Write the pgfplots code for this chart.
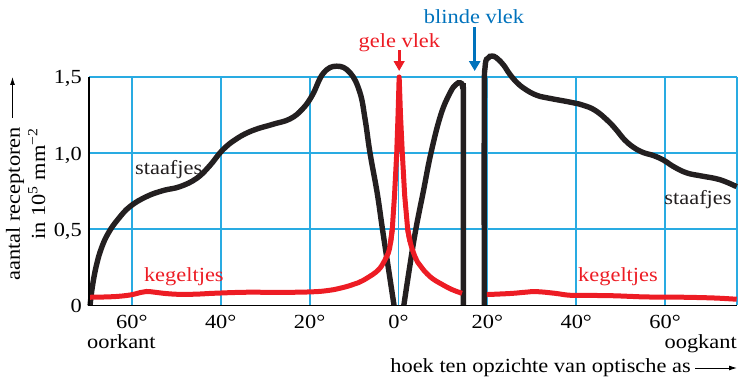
\documentclass[border=0pt]{standalone}
\usepackage{fontspec}
\setmainfont{Liberation Serif}[FakeStretch=1.12]
\usepackage{pgfplots}
\pgfplotsset{compat=1.18}
\usetikzlibrary{arrows.meta}
\definecolor{gridblue}{RGB}{41,171,226}
\definecolor{cred}{RGB}{237,28,36}
\definecolor{cblue}{RGB}{0,114,188}
\definecolor{cblack}{RGB}{35,31,32}
\begin{document}
\fontsize{20}{23}\selectfont
\begin{tikzpicture}
\begin{axis}[
  scale only axis, width=648pt, height=228.5pt,
  xmin=-69.64, xmax=76.17, ymin=0, ymax=1.5,
  clip=false,
  axis line style={draw=none},
  xtick={-60,-40,-20,0,20,40,60},
  xticklabels={60°,40°,20°,0°,20°,40°,60°},
  ytick={0,0.5,1,1.5},
  yticklabels={0,{0,5},{1,0},{1,5}},
  major tick length=0pt,
  grid=major,
  major grid style={gridblue, line width=1.8pt},
  xticklabel style={anchor=base, inner sep=0pt, yshift=-23.5pt},
  yticklabel style={anchor=base east, inner sep=0pt, xshift=-7pt, yshift=-7pt},
]
\draw[gridblue, line width=1.8pt] (rel axis cs:1,0) -- (rel axis cs:1,1);
\coordinate (O) at (rel axis cs:0,0);

% staafjes (rods)
\addplot[cblack, line width=5.4pt, smooth, tension=0.7] coordinates {
(-69.4,0) (-68.9,0.12) (-68.0,0.26) (-66.8,0.38) (-65.2,0.48) (-63,0.57) (-60.4,0.65)
(-56.7,0.715) (-52.9,0.755) (-49.2,0.78) (-45.4,0.835) (-42.4,0.92) (-39.6,1.02)
(-36.4,1.095) (-32.7,1.15) (-28.2,1.19) (-24.4,1.225) (-21.6,1.29) (-19.4,1.38)
(-16.9,1.525) (-13.9,1.571) (-10.9,1.528) (-8.7,1.40) (-7.5,1.22) (-6.4,1.0)
(-4.8,0.74) (-3.6,0.5) (-2.3,0.25) (-1.0,0)
};
\addplot[cblack, line width=5.4pt, smooth, tension=0.7] coordinates {
(1.2,0) (2.5,0.25) (3.9,0.5) (5.6,0.75) (7.3,1.0) (9.5,1.25) (11.6,1.396)
(12.9,1.45) (13.9,1.462) (14.45,1.43) (14.6,1.3) (14.6,0)
};
\addplot[cblack, line width=5.4pt, smooth, tension=0.7] coordinates {
(19.3,0) (19.3,1.3) (19.5,1.57) (20.2,1.625) (21.0,1.637) (22,1.627) (23.6,1.58)
(25,1.52) (26.6,1.465) (28.5,1.42) (31.1,1.38) (34,1.36) (38.6,1.335) (41.5,1.315)
(44.3,1.28) (47.2,1.21) (49.1,1.15) (50.8,1.09) (52.8,1.04) (55,1.005) (57.3,0.985)
(59.6,0.955) (62,0.91) (64.9,0.87) (68.2,0.85) (72.3,0.826) (76.1,0.78)
};

% kegeltjes (cones)
\addplot[cred, line width=5pt, smooth, tension=0.7] coordinates {
(-69.6,0.054) (-64.2,0.058) (-60.4,0.069) (-58.1,0.085) (-56.7,0.092) (-54.8,0.087)
(-52.9,0.08) (-49.2,0.073) (-45,0.075) (-41.7,0.08) (-34.2,0.087) (-26.7,0.086)
(-19.2,0.09) (-15.5,0.10) (-13.2,0.113) (-11,0.13) (-9.0,0.15) (-6.8,0.185)
(-4.55,0.233) (-3.2,0.29) (-2.3,0.343) (-1.8,0.41) (-1.4,0.5)
};
\addplot[cred, line width=5pt, sharp plot, line join=round] coordinates {
(-1.8,0.41) (-1.4,0.5) (-0.9,0.72) (-0.4,1.0) (-0.1,1.25) (0.15,1.5) (0.45,1.25)
(0.86,1.0) (1.4,0.72) (2.07,0.5) (2.6,0.42)
};
\addplot[cred, line width=5pt, smooth, tension=0.7] coordinates {
(2.07,0.5) (2.6,0.42) (3.33,0.35) (4.3,0.285) (5.58,0.235) (7.5,0.18) (9.72,0.14)
(12,0.105) (14.3,0.08)
};
\addplot[cred, line width=5pt, smooth, tension=0.7] coordinates {
(19.9,0.072) (22.5,0.075) (25.8,0.08) (28.5,0.087) (31.1,0.091) (35.2,0.08)
(38.7,0.067) (43.5,0.066) (48.3,0.064) (52,0.06) (55.9,0.056) (62,0.055)
(67.8,0.052) (72,0.048) (76.1,0.041)
};

% axis lines
\draw[black, line width=1.7pt] (rel axis cs:0,1) -- (rel axis cs:0,0) -- (rel axis cs:1,0);

% annotations
\node[anchor=base west, inner sep=0pt, text=cblack] at (axis cs:-59.3,0.863) {staafjes};
\node[anchor=base east, inner sep=0pt, text=cblack] at (axis cs:75.0,0.666) {staafjes};
\node[anchor=base west, inner sep=0pt, text=cred] at (axis cs:-57.3,0.156) {kegeltjes};
\node[anchor=base east, inner sep=0pt, text=cred] at (axis cs:58.4,0.156) {kegeltjes};
\node[anchor=base, inner sep=0pt, text=cred] at (axis cs:0.2,1.692) {gele vlek};
\node[anchor=base, inner sep=0pt, text=cblue] at (axis cs:17.0,1.853) {blinde vlek};
\draw[cred, line width=3pt, -{Triangle[length=10pt,width=10.5pt]}] (axis cs:0.15,1.677) -- (axis cs:0.15,1.539);
\draw[cblue, line width=3pt, -{Triangle[length=10pt,width=11pt]}] (axis cs:17.15,1.828) -- (axis cs:17.15,1.539);
\end{axis}

% axis titles
\node[rotate=90, anchor=base east, inner sep=0pt] at ([xshift=-69pt,yshift=178.5pt]O) {aantal receptoren};
\draw[line width=0.9pt, -{Latex[length=8pt,width=5pt]}] ([xshift=-76.5pt,yshift=187.5pt]O) -- ([xshift=-76.5pt,yshift=228.5pt]O);
\node[rotate=90, anchor=base east, inner sep=0pt] at ([xshift=-44pt,yshift=177.5pt]O) {in 10\textsuperscript{5} mm\textsuperscript{−2}};
\node[anchor=base west, inner sep=0pt] at ([xshift=-2pt,yshift=-43.5pt]O) {oorkant};
\node[anchor=base east, inner sep=0pt] at ([xshift=648pt,yshift=-43.5pt]O) {oogkant};
\node[anchor=base east, inner sep=0pt] at ([xshift=602pt,yshift=-67.5pt]O) {hoek ten opzichte van optische as};
\draw[line width=0.9pt, -{Latex[length=8pt,width=5pt]}] ([xshift=606pt,yshift=-62.5pt]O) -- ([xshift=648pt,yshift=-62.5pt]O);

\pgfresetboundingbox
\path[use as bounding box] ([xshift=-89pt,yshift=-73.5pt]O) rectangle ([xshift=650pt,yshift=305.5pt]O);
\end{tikzpicture}
\end{document}
